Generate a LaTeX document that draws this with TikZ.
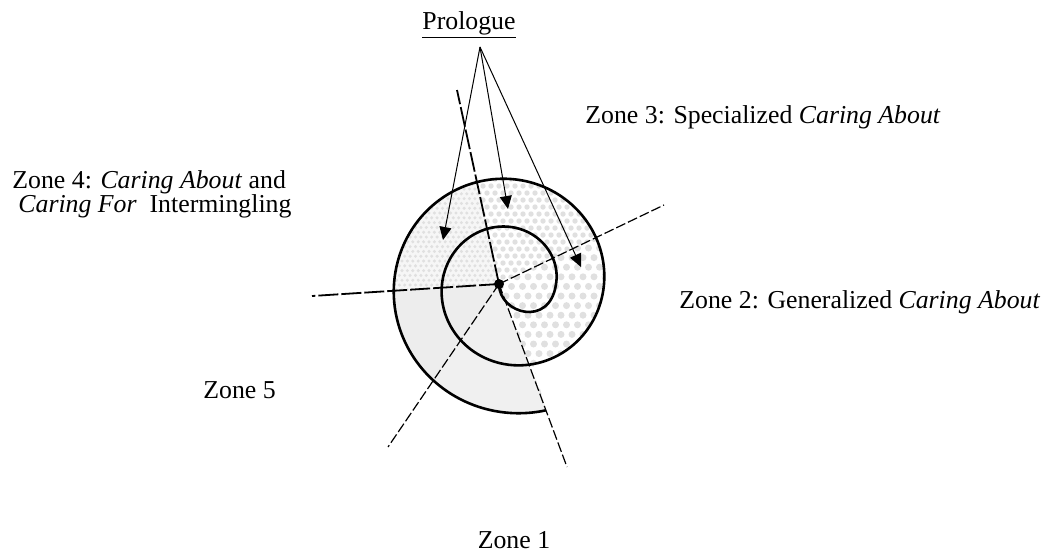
\documentclass[tikz,border=0pt]{standalone}
\usepackage{fontspec}
\setmainfont{Liberation Serif}
\usetikzlibrary{arrows.meta}
\definecolor{dotc}{gray}{0.88}
\newcommand\mywedge[2]{(499,284) -- ({499+300*cos(#1)},{284-300*sin(#1)}) -- ({499+300*cos((#1+#2)/2)},{284-300*sin((#1+#2)/2)}) -- ({499+300*cos(#2)},{284-300*sin(#2)}) -- cycle}
\newcommand\outerclip{plot[domain=285.5:645.5,samples=140,smooth,variable=\t] ({511+(45+\t*0.13333)*cos(\t)},{284-(45+\t*0.13333)*sin(\t)}) -- cycle}
\begin{document}
\begin{tikzpicture}[x=0.5pt,y=-0.5pt,
  lbl/.style={inner sep=0pt,anchor=base west,font=\fontsize{12.9}{15}\selectfont},
  spiralline/.style={line width=1.3pt},
  ray/.style={line width=0.6pt,dash pattern=on 5pt off 1.5pt},
  rayb/.style={line width=0.9pt,dash pattern=on 10pt off 1.5pt},
  parrow/.style={line width=0.5pt,-{Triangle[length=6.5pt,width=6pt]}},
]
\useasboundingbox (0,0) rectangle (1054,559);
% ---------- shading ----------
\begin{scope}
  \clip \outerclip;
  % zone 2: large dots
  \begin{scope}
    \clip \mywedge{-69.6}{25.6};
    \foreach \r in {0,...,22}{
      \foreach \c in {0,...,12}{
        \fill[dotc] ({495+\c*11+mod(\r,2)*5.5},{200+\r*9.6}) circle (3.5);
      }}
  \end{scope}
  % zone 3: medium dots
  \begin{scope}
    \clip \mywedge{25.6}{102.2};
    \foreach \r in {0,...,17}{
      \foreach \c in {0,...,21}{
        \fill[dotc] ({455+\c*8+mod(\r,2)*4},{165+\r*7}) circle (2.7);
      }}
  \end{scope}
  % zone 4: small dots on light grey
  \begin{scope}
    \clip \mywedge{102.2}{183.7};
    \fill[gray!7] (370,160) rectangle (520,310);
    \foreach \r in {0,...,28}{
      \foreach \c in {0,...,28}{
        \fill[gray!24] ({375+\c*5.4+mod(\r,2)*2.7},{165+\r*4.8}) circle (1.7);
      }}
  \end{scope}
  % zone 5 and zone 1: fine texture
  \fill[gray!14] \mywedge{183.7}{235.7};
  \fill[gray!12] \mywedge{235.7}{290.4};
\end{scope}
% ---------- texts ----------
\node[lbl,anchor=base] (prologue) at (469,29) {\underline{Prologue}};
\node[lbl] (z3) at (585,123) {Zone 3: Specialized \textit{Caring About}};
\node[lbl] (z4a) at (12,188) {Zone 4: \textit{Caring About} and};
\node[lbl] (z4b) at (18,212) {\textit{Caring For}\ \ Intermingling};
\node[lbl] (z2) at (679,308) {Zone 2: Generalized \textit{Caring About}};
\node[lbl] (z5) at (203,398) {Zone 5};
\node[lbl,anchor=base] (z1) at (514,548) {Zone 1};
% ---------- coordinates ----------
\coordinate (c) at (499,284);
\coordinate (r1) at (457,90);
\coordinate (r2) at (664,205);
\coordinate (r3) at (312,296);
\coordinate (r4) at (388,447);
\coordinate (r5) at (567,467);
\coordinate (apex) at (480,47);
\coordinate (t1) at (443,240);
\coordinate (t2) at (508,209);
\coordinate (t3) at (581,267);
% ---------- rays ----------
\draw[rayb] (c) -- (r1);
\draw[ray] (c) -- (r2);
\draw[rayb] (c) -- (r3);
\draw[ray] (c) -- (r4);
\draw[ray] (c) -- (r5);
% ---------- spiral ----------
\draw[spiralline] (c) .. controls (499,314) and (550,328) .. (556,284)
  -- plot[domain=0:645.5,samples=220,smooth,variable=\t] ({511+(45+\t*0.13333)*cos(\t)},{284-(45+\t*0.13333)*sin(\t)});
\node[circle,fill=black,inner sep=0pt,minimum size=5pt] (dot) at (c) {};
% ---------- arrows ----------
\draw[parrow] (apex) -- (t1);
\draw[parrow] (apex) -- (t2);
\draw[parrow] (apex) -- (t3);
\end{tikzpicture}
\end{document}
